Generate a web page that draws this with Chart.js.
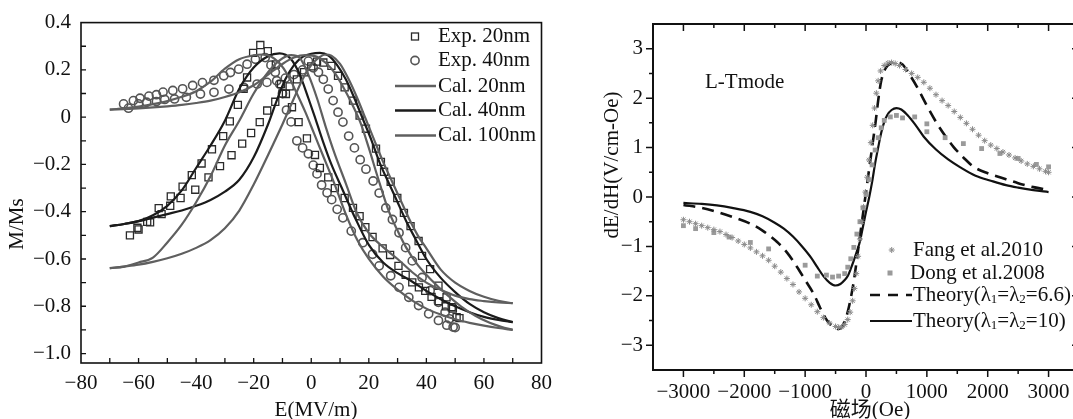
<!DOCTYPE html>
<html><head><meta charset="utf-8">
<script src="https://cdn.jsdelivr.net/npm/chart.js@4.4.1/dist/chart.umd.min.js"></script>
<style>
html,body{margin:0;padding:0;background:#fff;}
#wrap{position:relative;width:1073px;height:419px;overflow:hidden;background:#fff;}
canvas{position:absolute;top:0;}
</style></head><body>
<div id="wrap">
<canvas id="cl" width="560" height="419" style="left:0px"></canvas>
<canvas id="cr" width="540" height="419" style="left:560px"></canvas>
</div>
<script>
// ---------------- LEFT PANEL DATA (E in MV/m, M/Ms) ----------------
const exp20aE = [-63,-60.4,-57,-53,-48.8,-44.7,-41.5,-38.1,-34.5,-30.6,-28.3,-25.5,-23.5,-22.3,-20.2,-17.7,-15.1,-12.3,-10.5,-8.8,-6.7,-4.4,-1.5,1.3,3,5.9,8.2,11.6,14.5,16.8,18.8,21.3,24.8,27.4,30.3,32.8,35.1,37.4,39.6,41.8,44.3,46.8,49.2,51.5];
const exp20aM = [-0.5,-0.468,-0.443,-0.385,-0.335,-0.294,-0.245,-0.196,-0.136,-0.08,-0.018,0.052,0.12,0.168,0.272,0.305,0.279,0.223,0.14,0.098,0.042,-0.021,-0.09,-0.16,-0.215,-0.255,-0.3,-0.342,-0.384,-0.419,-0.465,-0.507,-0.555,-0.583,-0.629,-0.667,-0.699,-0.72,-0.735,-0.76,-0.778,-0.80,-0.81,-0.85];
const exp20bE = [-60,-56,-52,-49,-45.4,-40.3,-35.7,-31.7,-27.7,-24,-20.9,-17.9,-15.3,-12.5,-10,-7.5,-5,-2.5,0,2,4.2,7,9.3,11.6,14.5,16.8,19,22.5,24.2,25.3,27.6,29.9,32.2,34.5,37.3,38.5,41.3,44.2,47,48.8,50.5];
const exp20bM = [-0.475,-0.445,-0.41,-0.375,-0.342,-0.307,-0.255,-0.207,-0.161,-0.112,-0.067,-0.021,0.028,0.065,0.1,0.13,0.16,0.19,0.215,0.235,0.231,0.217,0.175,0.126,0.07,0.007,-0.049,-0.133,-0.189,-0.231,-0.273,-0.342,-0.405,-0.461,-0.524,-0.587,-0.643,-0.713,-0.762,-0.804,-0.846];
const exp40aE = [-65.2,-61.8,-59.5,-56.4,-53.8,-51.5,-48.1,-44.7,-41.2,-37.8,-33.8,-30.4,-28.1,-25.2,-22.3,-19.4,-16,-14,-12.5,-11,-10,-8.6,-7,-5,-3,-1,0.7,2,3.6,5.5,7.1,9,11,13.9,17.9,21.3,23.6,27.6,30.5,33.9,37.3,40.8,44.2,47.1,49.3];
const exp40aM = [0.056,0.07,0.08,0.089,0.095,0.106,0.113,0.12,0.134,0.146,0.156,0.175,0.189,0.203,0.224,0.245,0.252,0.22,0.19,0.14,0.1,0.03,-0.02,-0.1,-0.13,-0.155,-0.203,-0.24,-0.287,-0.32,-0.349,-0.39,-0.426,-0.482,-0.531,-0.58,-0.629,-0.671,-0.72,-0.762,-0.797,-0.832,-0.86,-0.88,-0.888];
const exp40bE = [-63.5,-60,-57.2,-53.8,-50.9,-47.5,-43.4,-38.5,-33.8,-28.6,-23.4,-18.8,-15.4,-12,-9,-6,-3,-1,0.7,2.5,4.2,5.9,7.6,9.3,11,13,15,17,19,21.5,23.6,25.9,28.2,30.5,32.8,35.1,38.5,41.3,44.2,46.5,48,50];
const exp40bM = [0.038,0.056,0.063,0.066,0.075,0.077,0.084,0.098,0.105,0.119,0.126,0.14,0.147,0.154,0.165,0.18,0.2,0.237,0.209,0.19,0.16,0.119,0.07,0.021,-0.021,-0.08,-0.13,-0.18,-0.22,-0.27,-0.321,-0.384,-0.433,-0.489,-0.552,-0.608,-0.678,-0.734,-0.783,-0.825,-0.853,-0.89];

const cal20aE = [-70,-65,-60,-55,-50,-45,-40,-35,-30,-25,-20,-17,-14,-11,-8,-5,-2,1,4,8,12,16,20,25,30,35,40,45,50,55,60,65,70];
const cal20aM = [0.032,0.037,0.045,0.055,0.068,0.086,0.11,0.15,0.205,0.245,0.262,0.265,0.257,0.228,0.175,0.1,0.02,-0.07,-0.16,-0.28,-0.41,-0.52,-0.6,-0.675,-0.73,-0.775,-0.81,-0.835,-0.855,-0.87,-0.882,-0.892,-0.9];
const cal20bE = [-70,-65,-60,-55,-50,-45,-40,-35,-30,-25,-20,-15,-10,-6,-2,2,5,8,11,14,17,20,23,27,30,33,37,42,47,52,57,62,66,70];
const cal20bM = [0.032,0.034,0.037,0.041,0.046,0.052,0.06,0.07,0.085,0.105,0.135,0.18,0.225,0.252,0.262,0.255,0.23,0.19,0.13,0.06,-0.02,-0.13,-0.25,-0.4,-0.48,-0.552,-0.625,-0.692,-0.75,-0.8,-0.84,-0.87,-0.887,-0.9];
const cal40aE = [-70,-65,-60,-55,-50,-45,-40,-35,-30,-25,-20,-15,-11,-7,-4,-1,1,4,7,11,15,20,25,30,35,40,45,50,55,60,65,70];
const cal40aM = [-0.461,-0.452,-0.44,-0.415,-0.375,-0.31,-0.215,-0.12,-0.015,0.12,0.21,0.258,0.27,0.245,0.18,0.08,0.01,-0.1,-0.2,-0.31,-0.42,-0.54,-0.615,-0.66,-0.695,-0.735,-0.77,-0.80,-0.825,-0.845,-0.858,-0.867];
const cal40bE = [-70,-65,-60,-55,-50,-45,-40,-35,-30,-25,-20,-15,-12,-9,-6,-3,0,3,6,9,12,15,18,21,24,27,30,33,36,40,45,50,55,60,65,70];
const cal40bM = [-0.461,-0.452,-0.44,-0.425,-0.41,-0.395,-0.375,-0.35,-0.315,-0.265,-0.17,-0.03,0.07,0.16,0.22,0.255,0.268,0.272,0.26,0.22,0.16,0.08,-0.01,-0.1,-0.2,-0.28,-0.36,-0.44,-0.51,-0.6,-0.68,-0.74,-0.79,-0.825,-0.85,-0.867];
const cal100aE = [-70,-65,-60,-55,-50,-45,-40,-35,-30,-25,-20,-15,-11,-7,-4,-1,2,5,8,12,16,20,25,30,35,40,45,50,55,60,65,70];
const cal100aM = [-0.639,-0.632,-0.615,-0.594,-0.53,-0.455,-0.36,-0.25,-0.12,-0.015,0.1,0.19,0.24,0.262,0.25,0.18,0.08,-0.04,-0.15,-0.28,-0.41,-0.49,-0.55,-0.6,-0.655,-0.7,-0.73,-0.755,-0.77,-0.778,-0.784,-0.787];
const cal100bE = [-70,-65,-60,-55,-50,-45,-40,-35,-30,-25,-20,-15,-10,-6,-3,0,3,5,7,10,13,16,19,22,25,28,31,34,37,40,45,50,55,60,65,70];
const cal100bM = [-0.639,-0.632,-0.624,-0.612,-0.597,-0.578,-0.553,-0.52,-0.47,-0.395,-0.285,-0.16,-0.03,0.08,0.16,0.22,0.255,0.265,0.26,0.225,0.16,0.08,-0.01,-0.1,-0.19,-0.27,-0.35,-0.43,-0.5,-0.555,-0.645,-0.70,-0.735,-0.76,-0.777,-0.787];

const leftXLabels = [-80,-60,-40,-20,0,20,40,60,80];
const leftXMarks = [-70,-60,-50,-40,-30,-20,-10,0,10,20,30,40,50,60,70];
const leftYLabels = [0.4,0.2,0,-0.2,-0.4,-0.6,-0.8,-1.0];
const leftYMarks = [0.3,0.2,0.1,0,-0.1,-0.2,-0.3,-0.4,-0.5,-0.6,-0.7,-0.8,-0.9,-1.0];
const leftLegend = ['Exp. 20nm','Exp. 40nm','Cal. 20nm','Cal. 40nm','Cal. 100nm'];

// ---------------- RIGHT PANEL DATA (H in Oe, dE/dH) ----------------
const fangH = [-3000,-2900,-2800,-2700,-2600,-2500,-2400,-2300,-2200,-2100,-2000,-1900,-1800,-1700,-1600,-1500,-1400,-1300,-1200,-1100,-1000,-900,-800,-700,-600,-500,-450,-400,-350,-300,-260,-220,-190,-160,-130,-100,-70,-40,-10,20,50,80,110,140,170,200,240,300,360,420,480,550,650,750,850,950,1050,1150,1250,1350,1450,1550,1650,1750,1850,1950,2050,2150,2250,2350,2450,2550,2650,2750,2850,2950,3000];
const fangV = [-0.46,-0.50,-0.54,-0.58,-0.62,-0.66,-0.70,-0.76,-0.82,-0.89,-0.96,-1.03,-1.11,-1.19,-1.28,-1.40,-1.52,-1.65,-1.77,-1.92,-2.05,-2.18,-2.32,-2.44,-2.55,-2.62,-2.64,-2.63,-2.58,-2.48,-2.33,-2.1,-1.85,-1.55,-1.2,-0.85,-0.5,-0.2,0.1,0.4,0.75,1.1,1.45,1.8,2.1,2.35,2.55,2.66,2.71,2.72,2.70,2.66,2.58,2.5,2.42,2.32,2.2,2.07,1.95,1.85,1.73,1.61,1.49,1.37,1.25,1.14,1.05,0.98,0.91,0.85,0.79,0.73,0.67,0.62,0.57,0.52,0.50];
const dongH = [-3000,-2800,-2500,-2250,-1900,-1600,-1000,-800,-650,-550,-450,-350,-300,-250,-200,-150,-100,-50,0,50,100,150,200,250,300,400,500,600,800,1000,1000,1300,1600,1900,2200,2500,2800,3000];
const dongV = [-0.58,-0.64,-0.72,-0.81,-0.92,-1.05,-1.38,-1.6,-1.58,-1.62,-1.6,-1.55,-1.42,-1.25,-1.02,-0.75,-0.5,-0.22,0.05,0.35,0.65,0.95,1.2,1.4,1.55,1.62,1.65,1.6,1.62,1.48,1.32,1.2,1.08,0.98,0.88,0.78,0.66,0.61];
const th66H = [-3000,-2700,-2450,-2200,-1900,-1700,-1460,-1300,-1130,-1000,-860,-750,-640,-540,-460,-420,-380,-330,-280,-240,-200,-160,-120,-80,-40,0,40,80,120,160,200,250,320,400,500,600,720,850,1000,1170,1300,1440,1600,1770,2000,2200,2500,2750,3000];
const th66V = [-0.16,-0.22,-0.30,-0.40,-0.54,-0.68,-0.91,-1.12,-1.42,-1.68,-1.96,-2.25,-2.5,-2.62,-2.67,-2.66,-2.6,-2.45,-2.22,-1.98,-1.7,-1.35,-0.98,-0.62,-0.26,0.1,0.46,0.82,1.18,1.54,1.95,2.35,2.6,2.7,2.73,2.68,2.47,2.2,1.85,1.48,1.24,1.01,0.8,0.61,0.48,0.40,0.28,0.2,0.14];
const th10H = [-3000,-2700,-2450,-2200,-1900,-1700,-1500,-1350,-1200,-1050,-900,-800,-700,-600,-500,-420,-350,-300,-250,-200,-150,-100,-50,0,50,100,150,200,250,300,350,420,500,580,680,800,950,1150,1350,1550,1800,2050,2300,2500,2750,3000];
const th10V = [-0.12,-0.14,-0.17,-0.22,-0.30,-0.39,-0.52,-0.64,-0.80,-1.0,-1.23,-1.42,-1.6,-1.73,-1.79,-1.76,-1.68,-1.6,-1.45,-1.28,-1.1,-0.9,-0.6,-0.3,-0.02,0.3,0.68,1.0,1.3,1.52,1.66,1.76,1.8,1.77,1.66,1.48,1.22,0.96,0.76,0.6,0.43,0.33,0.24,0.19,0.14,0.10];

const rightXLabels = [-3000,-2000,-1000,0,1000,2000,3000];
const rightXMinor = [-2500,-1500,-500,500,1500,2500];
const rightYLabels = [3,2,1,0,-1,-2,-3];
const rightYMinor = [2.5,1.5,0.5,-0.5,-1.5,-2.5];

// ---------------- helpers ----------------
const FONT = '"Liberation Serif","Times New Roman",serif';
const GRAY = '#5f5f5f', DARK = '#1b1b1b';
const pts = (xs, ys) => xs.map((x, i) => ({x: x, y: ys[i]}));
const minus = s => String(s).replace('-', '\u2212');

function drawFrameAndTicks(chart, spec) {
  const ctx = chart.ctx, a = chart.chartArea, xs = chart.scales.x, ys = chart.scales.y;
  ctx.save();
  ctx.strokeStyle = '#111';
  ctx.lineWidth = spec.frameW;
  ctx.strokeRect(a.left, a.top, a.right - a.left, a.bottom - a.top);
  ctx.lineWidth = spec.tickW;
  ctx.beginPath();
  spec.xt.forEach(t => {
    const p = xs.getPixelForValue(t[0]); const L = t[1];
    if (spec.bottom) { ctx.moveTo(p, a.bottom); ctx.lineTo(p, a.bottom + (spec.bottom === 'in' ? -L : L)); }
    if (spec.top) { ctx.moveTo(p, a.top); ctx.lineTo(p, a.top + (spec.top === 'in' ? L : -L)); }
  });
  spec.yt.forEach(t => {
    const p = ys.getPixelForValue(t[0]); const L = t[1];
    if (spec.left) { ctx.moveTo(a.left, p); ctx.lineTo(a.left + (spec.left === 'in' ? L : -L), p); }
    if (spec.right) { ctx.moveTo(a.right, p); ctx.lineTo(a.right + (spec.right === 'in' ? -L : L), p); }
  });
  ctx.stroke();
  ctx.restore();
}
function text(ctx, s, x, y, opt) {
  opt = opt || {};
  ctx.save();
  ctx.font = (opt.size || 21) + 'px ' + (opt.family || FONT);
  ctx.fillStyle = '#111';
  ctx.textAlign = opt.align || 'left';
  ctx.textBaseline = 'middle';
  ctx.translate(x, y);
  if (opt.rot) ctx.rotate(opt.rot);
  ctx.fillText(s, 0, 0);
  ctx.restore();
}
function rich(ctx, parts, x, y) {
  ctx.save(); ctx.fillStyle = '#111'; ctx.textBaseline = 'middle'; ctx.textAlign = 'left';
  parts.forEach(p => {
    const sub = typeof p !== 'string';
    const t = sub ? p.sub : p;
    ctx.font = (sub ? 13 : 21) + 'px ' + FONT;
    ctx.fillText(t, x, y + (sub ? 5 : 0));
    x += ctx.measureText(t).width;
  });
  ctx.restore();
}

// ---------------- LEFT CHART ----------------
const lineDS = (label, xs, ys, color) => ({label, data: pts(xs, ys), showLine: true, borderColor: color, borderWidth: 2.2, pointRadius: 0, cubicInterpolationMode: 'monotone', fill: false});
const leftPlugin = {
  id: 'leftDeco',
  afterDatasetsDraw(chart) {
    drawFrameAndTicks(chart, {frameW: 1.6, tickW: 1.3, bottom: 'in', left: 'in',
      xt: leftXMarks.map(v => [v, 5]), yt: leftYMarks.map(v => [v, 5])});
    const ctx = chart.ctx;
    // legend
    ctx.save();
    ctx.strokeStyle = '#2a2a2a'; ctx.lineWidth = 1.3;
    ctx.strokeRect(411.5, 33, 7, 7);
    ctx.strokeStyle = '#555'; ctx.lineWidth = 1.6;
    ctx.beginPath(); ctx.arc(415, 60.5, 4.1, 0, Math.PI * 2); ctx.stroke();
    [[86, GRAY], [110.5, DARK], [135.5, GRAY]].forEach(r => {
      ctx.strokeStyle = r[1]; ctx.lineWidth = 2.4;
      ctx.beginPath(); ctx.moveTo(395, r[0]); ctx.lineTo(436, r[0]); ctx.stroke();
    });
    ctx.restore();
    const ly = [36.5, 60.5, 86, 110.5, 135.5];
    leftLegend.forEach((s, i) => text(ctx, s, 438, ly[i]));
    text(ctx, 'M/Ms', 17, 224, {align: 'center', rot: -Math.PI / 2});
    text(ctx, 'E(MV/m)', 316, 410, {align: 'center'});
  }
};
new Chart(document.getElementById('cl'), {
  type: 'scatter',
  data: {datasets: [
    lineDS('Cal. 20nm', cal20aE, cal20aM, GRAY),
    lineDS('Cal. 20nm b', cal20bE, cal20bM, GRAY),
    lineDS('Cal. 100nm', cal100aE, cal100aM, GRAY),
    lineDS('Cal. 100nm b', cal100bE, cal100bM, GRAY),
    lineDS('Cal. 40nm', cal40aE, cal40aM, DARK),
    lineDS('Cal. 40nm b', cal40bE, cal40bM, DARK),
    {label: 'Exp. 20nm', data: pts(exp20aE, exp20aM), pointStyle: 'rect', pointRadius: 5, borderColor: '#2a2a2a', backgroundColor: 'rgba(0,0,0,0)', borderWidth: 1.3},
    {label: 'Exp. 20nm b', data: pts(exp20bE, exp20bM), pointStyle: 'rect', pointRadius: 5, borderColor: '#2a2a2a', backgroundColor: 'rgba(0,0,0,0)', borderWidth: 1.3},
    {label: 'Exp. 40nm', data: pts(exp40aE, exp40aM), pointStyle: 'circle', pointRadius: 4.1, borderColor: '#555', backgroundColor: 'rgba(0,0,0,0)', borderWidth: 1.6},
    {label: 'Exp. 40nm b', data: pts(exp40bE, exp40bM), pointStyle: 'circle', pointRadius: 4.1, borderColor: '#555', backgroundColor: 'rgba(0,0,0,0)', borderWidth: 1.6}
  ]},
  options: {
    responsive: false, animation: false, devicePixelRatio: 1, events: [],
    layout: {padding: {left: 0, top: 20, right: 12, bottom: 0}},
    plugins: {legend: {display: false}, tooltip: {enabled: false}},
    scales: {
      x: {type: 'linear', min: -80, max: 80,
        afterBuildTicks: s => { s.ticks = leftXLabels.map(v => ({value: v})); },
        afterFit: s => { s.height = 56; },
        grid: {display: false, drawTicks: false}, border: {display: false},
        ticks: {autoSkip: false, maxRotation: 0, padding: 8, color: '#111', font: {family: FONT, size: 21}, callback: v => minus(v)}},
      y: {type: 'linear', min: -1.04, max: 0.4,
        afterBuildTicks: s => { s.ticks = leftYLabels.map(v => ({value: v})); },
        afterFit: s => { s.width = 81; },
        grid: {display: false, drawTicks: false}, border: {display: false},
        ticks: {autoSkip: false, padding: 10, color: '#111', font: {family: FONT, size: 21}, callback: v => v === 0 ? '0' : minus(v.toFixed(1))}}
    }
  },
  plugins: [leftPlugin]
});

// ---------------- RIGHT CHART ----------------
const rightPlugin = {
  id: 'rightDeco',
  afterDatasetsDraw(chart) {
    const xt = rightXLabels.map(v => [v, 7]).concat(rightXMinor.map(v => [v, 4]));
    const yt = rightYLabels.map(v => [v, 7]).concat(rightYMinor.map(v => [v, 4]));
    drawFrameAndTicks(chart, {frameW: 2, tickW: 1.5, bottom: 'out', top: 'in', left: 'out', right: 'in', xt, yt});
    const ctx = chart.ctx;
    text(ctx, 'L-Tmode', 145, 82);
    // legend markers (canvas offset 560)
    ctx.save();
    ctx.strokeStyle = '#8a8a8a'; ctx.lineWidth = 1;
    const sx = 331.7, sy = 250;
    ctx.beginPath();
    for (let k = 0; k < 4; k++) { const an = k * Math.PI / 4; ctx.moveTo(sx - 3 * Math.cos(an), sy - 3 * Math.sin(an)); ctx.lineTo(sx + 3 * Math.cos(an), sy + 3 * Math.sin(an)); }
    ctx.stroke();
    ctx.fillStyle = '#9a9a9a'; ctx.fillRect(327.5, 270.5, 5, 5);
    ctx.strokeStyle = '#111'; ctx.lineWidth = 2.6; ctx.setLineDash([10, 8]);
    ctx.beginPath(); ctx.moveTo(310, 295); ctx.lineTo(352, 295); ctx.stroke();
    ctx.setLineDash([]); ctx.lineWidth = 2.2;
    ctx.beginPath(); ctx.moveTo(310, 321); ctx.lineTo(352, 321); ctx.stroke();
    ctx.restore();
    text(ctx, 'Fang et al.2010', 353, 250);
    text(ctx, 'Dong et al.2008', 350, 273);
    rich(ctx, ['Theory(\u03bb', {sub: '1'}, '=\u03bb', {sub: '2'}, '=6.6)'], 353, 295);
    rich(ctx, ['Theory(\u03bb', {sub: '1'}, '=\u03bb', {sub: '2'}, '=10)'], 353, 321);
    text(ctx, 'dE/dH(V/cm-Oe)', 52, 165, {align: 'center', rot: -Math.PI / 2});
    text(ctx, '磁场(Oe)', 310, 410, {align: 'center', family: '"Liberation Serif","Noto Sans CJK SC",serif'});
  }
};
new Chart(document.getElementById('cr'), {
  type: 'scatter',
  data: {datasets: [
    {label: 'Fang et al.2010', data: pts(fangH, fangV), pointStyle: 'star', pointRadius: 3, borderColor: '#8a8a8a', borderWidth: 1},
    {label: 'Dong et al.2008', data: pts(dongH, dongV), pointStyle: 'rect', pointRadius: 3.4, borderColor: '#9a9a9a', backgroundColor: '#9a9a9a', borderWidth: 0},
    {label: 'Theory 6.6', data: pts(th66H, th66V), showLine: true, borderColor: '#111', borderWidth: 2.6, borderDash: [12, 7], pointRadius: 0, cubicInterpolationMode: 'monotone'},
    {label: 'Theory 10', data: pts(th10H, th10V), showLine: true, borderColor: '#111', borderWidth: 2.2, pointRadius: 0, cubicInterpolationMode: 'monotone'}
  ]},
  options: {
    responsive: false, animation: false, devicePixelRatio: 1, events: [],
    layout: {padding: {left: 0, top: 24, right: 21, bottom: 0}},
    plugins: {legend: {display: false}, tooltip: {enabled: false}},
    scales: {
      x: {type: 'linear', min: -3500, max: 3500,
        afterBuildTicks: s => { s.ticks = rightXLabels.map(v => ({value: v})); },
        afterFit: s => { s.height = 49; },
        grid: {display: false, drawTicks: false}, border: {display: false},
        ticks: {autoSkip: false, maxRotation: 0, padding: 10, color: '#111', font: {family: FONT, size: 21}, callback: v => minus(v)}},
      y: {type: 'linear', min: -3.5, max: 3.5,
        afterBuildTicks: s => { s.ticks = rightYLabels.map(v => ({value: v})); },
        afterFit: s => { s.width = 93; },
        grid: {display: false, drawTicks: false}, border: {display: false},
        ticks: {autoSkip: false, padding: 10, color: '#111', font: {family: FONT, size: 21}, callback: v => minus(v)}}
    }
  },
  plugins: [rightPlugin]
});
</script>
</body></html>
